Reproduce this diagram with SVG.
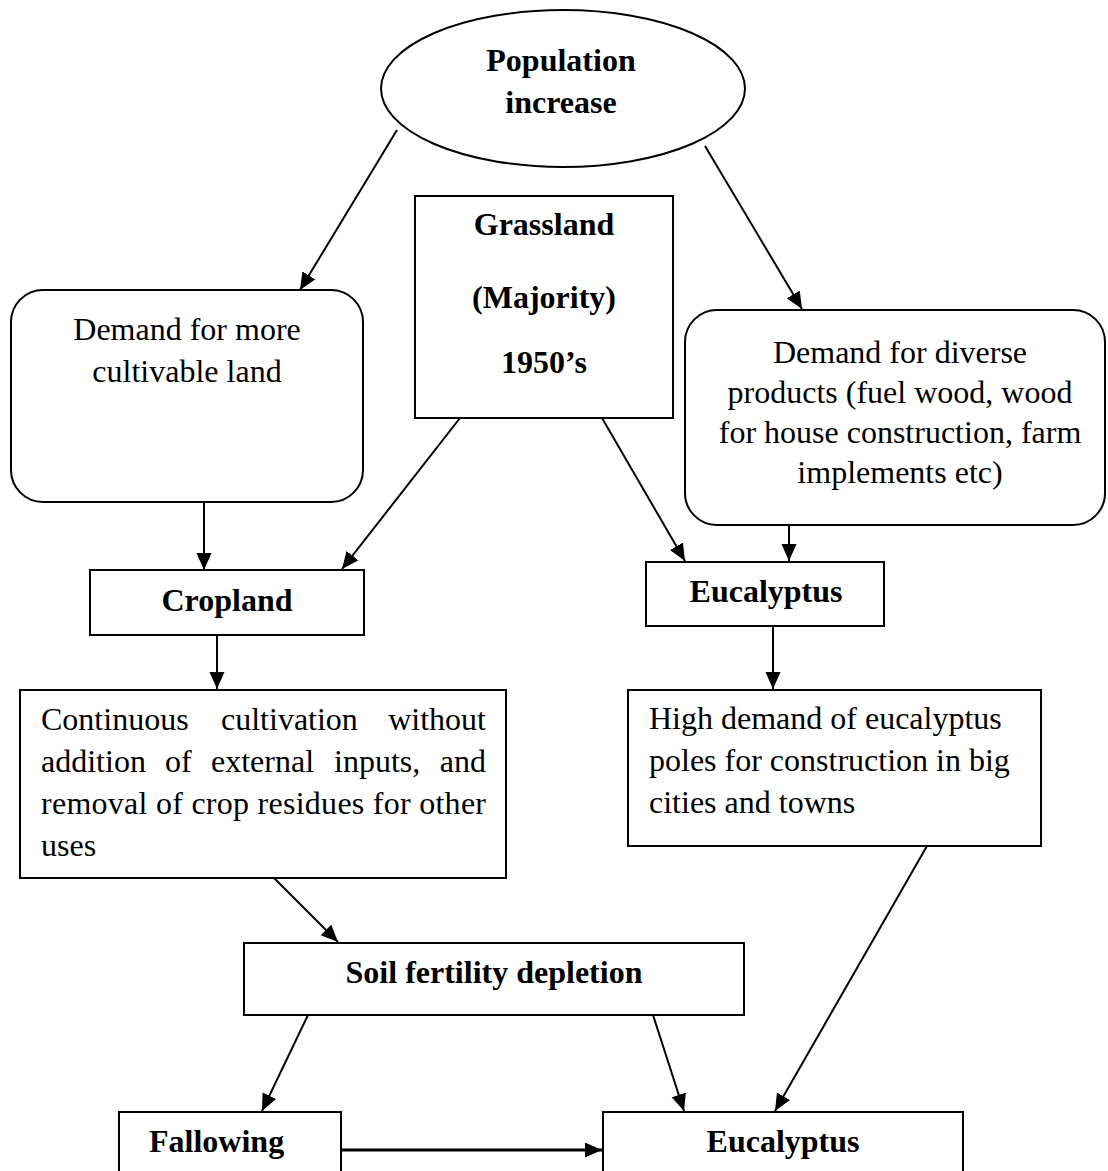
<svg xmlns="http://www.w3.org/2000/svg" width="1108" height="1171" viewBox="0 0 1108 1171">
<style>
.shape{fill:#fff;stroke:#000;stroke-width:2}
.t{font-family:"Liberation Serif","Times New Roman",serif;font-size:32px;fill:#000}
.b{font-weight:bold}
.c{text-anchor:middle}
.ln{stroke:#000;stroke-width:2;fill:none;marker-end:url(#ah)}
</style>
<defs>
<marker id="ah" markerUnits="userSpaceOnUse" markerWidth="19" markerHeight="16" refX="17" refY="7.5" orient="auto">
<path d="M0,0 L17,7.5 L0,15 z" fill="#000"/>
</marker>
</defs>
<rect width="1108" height="1171" fill="#fff"/>
<g id="connectors">
<line class="ln" x1="397" y1="130" x2="300" y2="290"/>
<line class="ln" x1="705" y1="146" x2="802" y2="309"/>
<line class="ln" x1="204" y1="502" x2="204" y2="570"/>
<line class="ln" x1="460" y1="418" x2="342" y2="569"/>
<line class="ln" x1="602" y1="418" x2="685" y2="561"/>
<line class="ln" x1="789" y1="526" x2="789" y2="561"/>
<line class="ln" x1="217" y1="635" x2="217" y2="689"/>
<line class="ln" x1="773" y1="626" x2="773" y2="689"/>
<line class="ln" x1="274" y1="878" x2="338" y2="942"/>
<line class="ln" x1="308" y1="1015" x2="262" y2="1111"/>
<line class="ln" x1="653" y1="1015" x2="684" y2="1111"/>
<line class="ln" x1="927" y1="846" x2="775" y2="1111"/>
<line class="ln" x1="341" y1="1150" x2="602" y2="1150" style="stroke-width:3"/>
</g>
<g id="population">
<ellipse class="shape" cx="563" cy="88.5" rx="182" ry="78.5"/>
<text class="t b c" x="561" y="71">Population</text>
<text class="t b c" x="561" y="113">increase</text>
</g>
<g id="grassland">
<rect class="shape" x="415" y="196" width="258" height="222"/>
<text class="t b c" x="544" y="235">Grassland</text>
<text class="t b c" x="544" y="308">(Majority)</text>
<text class="t b c" x="544" y="373">1950’s</text>
</g>
<g id="demand-land">
<rect class="shape" x="11" y="290" width="352" height="212" rx="32" ry="32"/>
<text class="t c" x="187" y="340">Demand for more</text>
<text class="t c" x="187" y="382">cultivable land</text>
</g>
<g id="demand-products">
<rect class="shape" x="685" y="310" width="420" height="215" rx="32" ry="32"/>
<text class="t c" x="900" y="363">Demand for diverse</text>
<text class="t c" x="900" y="403">products (fuel wood, wood</text>
<text class="t c" x="900" y="443">for house construction, farm</text>
<text class="t c" x="900" y="483">implements etc)</text>
</g>
<g id="cropland">
<rect class="shape" x="90" y="570" width="274" height="65"/>
<text class="t b c" x="227" y="611">Cropland</text>
</g>
<g id="eucalyptus-top">
<rect class="shape" x="646" y="562" width="238" height="64"/>
<text class="t b c" x="766" y="602">Eucalyptus</text>
</g>
<g id="continuous">
<rect class="shape" x="20" y="690" width="486" height="188"/>
<text class="t" y="730"><tspan x="41">Continuous</tspan><tspan x="221">cultivation</tspan><tspan x="486" text-anchor="end">without</tspan></text>
<text class="t" y="772"><tspan x="41">addition</tspan><tspan x="165">of</tspan><tspan x="211">external</tspan><tspan x="334">inputs,</tspan><tspan x="486" text-anchor="end">and</tspan></text>
<text class="t" y="814" textLength="445" lengthAdjust="spacing" x="41">removal of crop residues for other</text>
<text class="t" x="41" y="856">uses</text>
</g>
<g id="high-demand">
<rect class="shape" x="628" y="690" width="413" height="156"/>
<text class="t" x="649" y="729">High demand of eucalyptus</text>
<text class="t" x="649" y="771">poles for construction in big</text>
<text class="t" x="649" y="813">cities and towns</text>
</g>
<g id="soil">
<rect class="shape" x="244" y="943" width="500" height="72"/>
<text class="t b c" x="494" y="983">Soil fertility depletion</text>
</g>
<g id="fallowing">
<rect class="shape" x="119" y="1112" width="222" height="80"/>
<text class="t b" x="149" y="1152">Fallowing</text>
</g>
<g id="eucalyptus-bottom">
<rect class="shape" x="603" y="1112" width="360" height="80"/>
<text class="t b c" x="783" y="1152">Eucalyptus</text>
</g>
</svg>
